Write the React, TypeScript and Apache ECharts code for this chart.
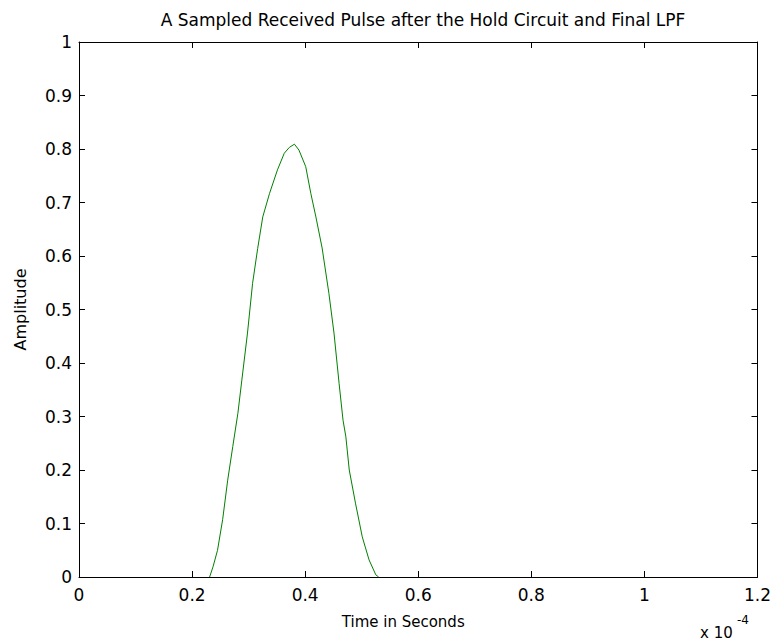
import React, { useEffect, useRef } from "react";
import * as echarts from "echarts";

const title = "A Sampled Received Pulse after the Hold Circuit and Final LPF";
const xLabel = "Time in Seconds";
const yLabel = "Amplitude";
// time in units of 1e-4 s
const timeValues = [
  0.231, 0.237, 0.245, 0.254, 0.263, 0.272, 0.281, 0.288, 0.298, 0.307, 0.316,
  0.325, 0.337, 0.351, 0.363, 0.372, 0.381, 0.389, 0.401, 0.41, 0.419, 0.43,
  0.442, 0.451, 0.46, 0.467, 0.472, 0.478, 0.489, 0.501, 0.513, 0.525, 0.53,
];
const amplitudeValues = [
  0, 0.019, 0.05, 0.107, 0.181, 0.244, 0.306, 0.368, 0.456, 0.549, 0.614,
  0.673, 0.717, 0.761, 0.792, 0.803, 0.809, 0.798, 0.767, 0.717, 0.673, 0.615,
  0.53, 0.456, 0.362, 0.293, 0.262, 0.2, 0.138, 0.075, 0.032, 0.004, 0,
];

const FONT = "DejaVu Sans, sans-serif";

export default function App() {
  const ref = useRef<HTMLDivElement>(null);
  useEffect(() => {
    if (!ref.current) return;
    const chart = echarts.init(ref.current, null, { renderer: "svg" });
    const data = timeValues.map((t, i) => [t, amplitudeValues[i]]);
    const axisCommon = {
      axisLine: { show: true, onZero: false, lineStyle: { color: "#000", width: 1 } },
      axisTick: { show: true, inside: true, length: 6, lineStyle: { color: "#000" } },
      splitLine: { show: false },
    };
    chart.setOption({
      animation: false,
      backgroundColor: "#fff",
      title: {
        text: title,
        left: 418,
        textAlign: "center",
        top: 6,
        textStyle: { fontFamily: FONT, fontSize: 17, fontWeight: "normal", color: "#000" },
      },
      grid: { left: 79, right: 14, top: 42, bottom: 67 },
      xAxis: [
        {
          type: "value",
          min: 0,
          max: 1.2,
          interval: 0.2,
          ...axisCommon,
          axisLabel: {
            fontFamily: FONT,
            fontSize: 17,
            color: "#000",
            margin: 9,
            formatter: (v: number) => String(Math.round(v * 10) / 10),
          },
          name: xLabel,
          nameLocation: "middle",
          nameGap: 37,
          nameTextStyle: { fontFamily: FONT, fontSize: 15, color: "#000", padding: [0, 30, 0, 0] },
        },
        {
          type: "value",
          position: "top",
          min: 0,
          max: 1.2,
          interval: 0.2,
          ...axisCommon,
          axisLabel: { show: false },
        },
      ],
      yAxis: [
        {
          type: "value",
          min: 0,
          max: 1,
          interval: 0.1,
          ...axisCommon,
          axisLabel: {
            fontFamily: FONT,
            fontSize: 17,
            color: "#000",
            margin: 7,
            formatter: (v: number) => String(Math.round(v * 10) / 10),
          },
          name: yLabel,
          nameLocation: "middle",
          nameGap: 51,
          nameTextStyle: { fontFamily: FONT, fontSize: 16, color: "#000" },
        },
        {
          type: "value",
          position: "right",
          min: 0,
          max: 1,
          interval: 0.1,
          ...axisCommon,
          axisLabel: { show: false },
        },
      ],
      graphic: [
        {
          type: "text",
          left: 700,
          top: 625,
          style: { text: "x 10", fontFamily: FONT, fontSize: 15, fill: "#000" },
        },
        {
          type: "text",
          left: 737,
          top: 614,
          style: { text: "-4", fontFamily: FONT, fontSize: 12, fill: "#000" },
        },
      ],
      series: [
        {
          type: "line",
          data,
          showSymbol: false,
          lineStyle: { color: "#008000", width: 1 },
          xAxisIndex: 0,
          yAxisIndex: 0,
        },
      ],
    });
    return () => chart.dispose();
  }, []);
  return <div ref={ref} style={{ width: 774, height: 644, position: "absolute", left: 0, top: 0 }} />;
}
